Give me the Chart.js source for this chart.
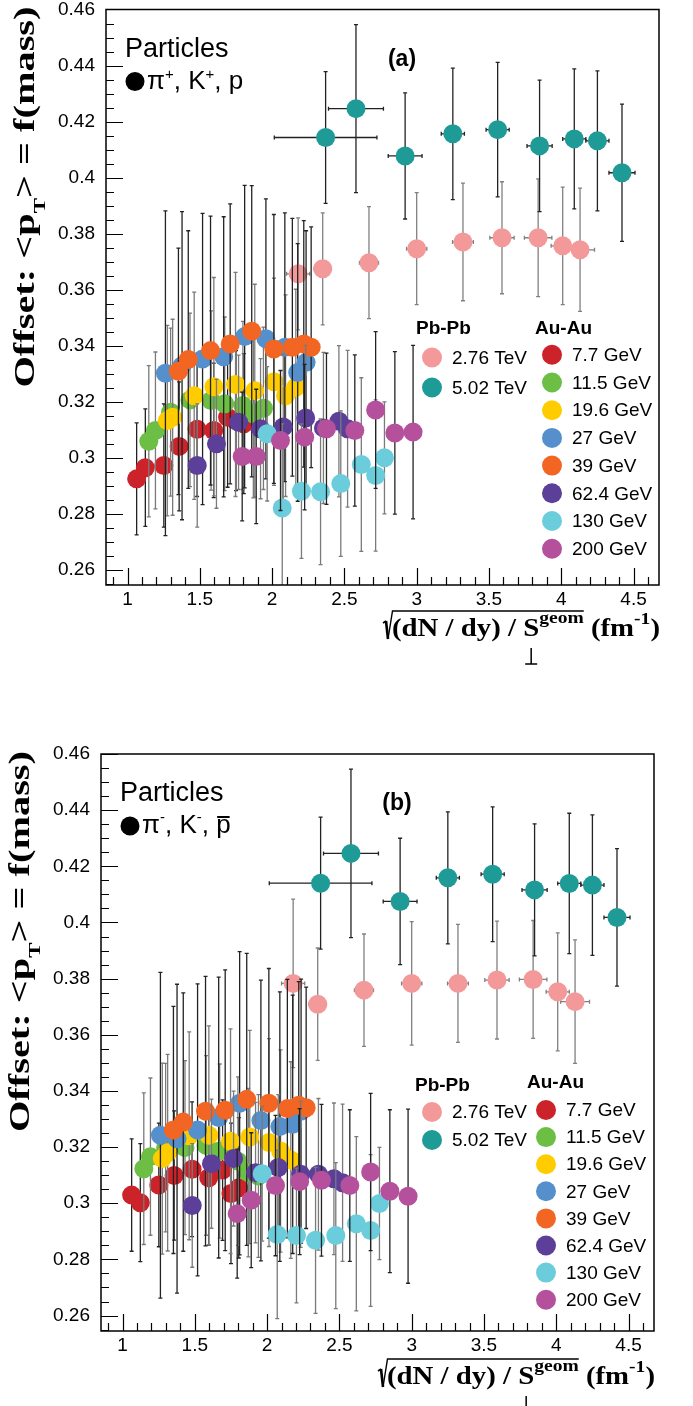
<!DOCTYPE html>
<html>
<head>
<meta charset="utf-8">
<script src="https://cdn.jsdelivr.net/npm/chart.js@4.4.0/dist/chart.umd.min.js"></script>
<style>
  html, body { margin: 0; padding: 0; background: #fff; }
  #wrap { position: relative; width: 693px; height: 1406px; }
  canvas { position: absolute; left: 0; }
</style>
</head>
<body>
<div id="wrap">
  <canvas id="chartA" width="693" height="703" style="top:0px"></canvas>
  <canvas id="chartB" width="693" height="703" style="top:703px"></canvas>
</div>
<script>
// Series names (Pb-Pb first, then Au-Au energies)
const energyLabels = ['2.76 TeV', '5.02 TeV', '7.7 GeV', '11.5 GeV', '19.6 GeV', '27 GeV', '39 GeV', '62.4 GeV', '130 GeV', '200 GeV'];
const energyColors = ['#f4999a', '#1f9b97', '#cc2229', '#6cbe45', '#ffcc00', '#5590cc', '#f26522', '#5c3f99', '#6bcddb', '#b5519c'];
const barColors = ['#808080', '#222222', '#222222', '#7a7a7a', '#7a7a7a', '#222222', '#222222', '#7a7a7a', '#7a7a7a', '#222222'];

// x : sqrt((dN/dy)/S) (same centralities in both panels)
const x276 = [2.18, 2.35, 2.67, 3.00, 3.32, 3.59, 3.84, 4.01, 4.13];
const x502 = [2.37, 2.58, 2.92, 3.25, 3.56, 3.85, 4.09, 4.25, 4.42];
const x7   = [1.063, 1.123, 1.251, 1.357, 1.481, 1.596, 1.692, 1.75, 1.804];
const x11  = [1.147, 1.193, 1.298, 1.432, 1.578, 1.672, 1.798, 1.87, 1.94];
const x19  = [1.275, 1.312, 1.461, 1.597, 1.747, 1.88, 2.013, 2.093, 2.164];
const x27  = [1.262, 1.377, 1.519, 1.665, 1.81, 1.957, 2.088, 2.177, 2.235];
const x39  = [1.352, 1.42, 1.574, 1.71, 1.859, 2.012, 2.14, 2.219, 2.27];
const x62  = [1.482, 1.615, 1.768, 1.92, 2.077, 2.232, 2.355, 2.462, 2.522];
const x130 = [1.966, 2.07, 2.203, 2.335, 2.475, 2.617, 2.716, 2.777];
const x200 = [1.793, 1.89, 2.058, 2.225, 2.376, 2.572, 2.716, 2.849, 2.975];

// panel (a): pi+, K+, p
const yA276 = [0.3656, 0.3674, 0.3696, 0.3746, 0.3770, 0.3785, 0.3785, 0.3756, 0.3742];
const yA502 = [0.4143, 0.4246, 0.4077, 0.4156, 0.4171, 0.4113, 0.4138, 0.4131, 0.4017];
const yA7   = [0.2924, 0.2964, 0.2972, 0.3040, 0.3101, 0.3097, 0.3144, 0.3132, 0.3121];
const yA11  = [0.3058, 0.3097, 0.3162, 0.3206, 0.3204, 0.3192, 0.3186, 0.3156, 0.3176];
const yA19  = [0.3132, 0.3144, 0.3221, 0.3253, 0.3261, 0.3239, 0.3271, 0.3221, 0.3251];
const yA27  = [0.3301, 0.3328, 0.3352, 0.3360, 0.3432, 0.3424, 0.3394, 0.3304, 0.3340];
const yA39  = [0.3308, 0.3350, 0.3382, 0.3406, 0.3451, 0.3388, 0.3394, 0.3406, 0.3394];
const yA62  = [0.2972, 0.3049, 0.3126, 0.3103, 0.3109, 0.3141, 0.3106, 0.3130, 0.3103];
const yA130 = [0.3085, 0.2820, 0.2880, 0.2878, 0.2907, 0.2975, 0.2936, 0.2999];
const yA200 = [0.3004, 0.3004, 0.3061, 0.3073, 0.3103, 0.3097, 0.3170, 0.3088, 0.3091];

// panel (b): pi-, K-, pbar
const yB276 = [0.3783, 0.3709, 0.3759, 0.3783, 0.3783, 0.3795, 0.3797, 0.3753, 0.3718];
const yB502 = [0.4140, 0.4246, 0.4075, 0.4159, 0.4172, 0.4116, 0.4139, 0.4133, 0.4018];
const yB7   = [0.3029, 0.3002, 0.3065, 0.3099, 0.3121, 0.3091, 0.3118, 0.3035, 0.3055];
const yB11  = [0.3123, 0.3166, 0.3198, 0.3198, 0.3206, 0.3186, 0.3150, 0.3109, 0.3097];
const yB19  = [0.3159, 0.3180, 0.3240, 0.3242, 0.3221, 0.3236, 0.3216, 0.3186, 0.3154];
const yB27  = [0.3242, 0.3230, 0.3261, 0.3305, 0.3356, 0.3295, 0.3273, 0.3281, 0.3328];
const yB39  = [0.3261, 0.3289, 0.3328, 0.3331, 0.3370, 0.3356, 0.3337, 0.3349, 0.3340];
const yB62  = [0.2992, 0.3141, 0.3159, 0.3109, 0.3127, 0.3103, 0.3103, 0.3087, 0.3073];
const yB130 = [0.3105, 0.2889, 0.2885, 0.2868, 0.2885, 0.2927, 0.2903, 0.2999];
const yB200 = [0.2963, 0.3011, 0.3063, 0.3077, 0.3082, 0.3063, 0.3111, 0.3043, 0.3025];

// error bars (half widths)
const eyA276 = [0.020, 0.020, 0.020, 0.020, 0.021, 0.020, 0.021, 0.021, 0.022];
const eyB276 = [0.030, 0.020, 0.020, 0.022, 0.021, 0.021, 0.021, 0.021, 0.022];
const ey502  = [0.0235, 0.030, 0.0225, 0.0235, 0.024, 0.0235, 0.025, 0.025, 0.0245];
const ex276  = [0.08, 0.06, 0.066, 0.07, 0.072, 0.084, 0.095, 0.08, 0.10];
const ex502  = [0.355, 0.19, 0.117, 0.08, 0.08, 0.087, 0.08, 0.08, 0.09];
const ey7    = [0.020, 0.021, 0.022, 0.023, 0.024, 0.024, 0.025, 0.025, 0.025];
const ey11   = [0.027, 0.028, 0.030, 0.031, 0.032, 0.031, 0.030, 0.030, 0.029];
const ey19   = [0.034, 0.035, 0.037, 0.039, 0.040, 0.038, 0.037, 0.036, 0.035];
const ey27   = [0.058, 0.055, 0.052, 0.050, 0.054, 0.050, 0.048, 0.046, 0.047];
const ey39   = [0.044, 0.046, 0.048, 0.050, 0.052, 0.048, 0.046, 0.044, 0.043];
const ey62   = [0.022, 0.023, 0.024, 0.025, 0.026, 0.026, 0.027, 0.027, 0.028];
const ey130  = [0.024, 0.030, 0.024, 0.026, 0.026, 0.031, 0.027, 0.020];
const ey200  = [0.023, 0.024, 0.025, 0.026, 0.027, 0.027, 0.028, 0.029, 0.031];

Chart.defaults.font.family = '"Liberation Sans", Arial, Helvetica, sans-serif';
Chart.defaults.color = '#000';

const SERIF = '"Liberation Serif", "Times New Roman", serif';

function buildDatasets(ySets, ey276) {
  const xs = [x276, x502, x7, x11, x19, x27, x39, x62, x130, x200];
  const eys = [ey276, ey502, ey7, ey11, ey19, ey27, ey39, ey62, ey130, ey200];
  const exs = [ex276, ex502];
  return xs.map((xv, i) => ({
    label: energyLabels[i],
    data: xv.map((x, j) => ({ x: x, y: ySets[i][j] })),
    errY: eys[i],
    errX: exs[i] || null,
    barColor: barColors[i],
    backgroundColor: energyColors[i],
    borderColor: energyColors[i],
    borderWidth: 0,
    pointRadius: 9.5,
    pointHoverRadius: 9.5,
    order: 20 - i
  }));
}

// error bars under each dataset's own markers
const errorBars = {
  id: 'errorBars',
  beforeDatasetDraw(chart, args) {
    const ds = chart.data.datasets[args.index];
    const xs = chart.scales.x, ys = chart.scales.y;
    const ctx = chart.ctx, a = chart.chartArea;
    ctx.save();
    ctx.beginPath();
    ctx.rect(a.left, a.top, a.right - a.left, a.bottom - a.top);
    ctx.clip();
    ctx.strokeStyle = ds.barColor;
    ctx.lineWidth = 1.3;
    ds.data.forEach((p, i) => {
      const px = xs.getPixelForValue(p.x), py = ys.getPixelForValue(p.y);
      const t = ys.getPixelForValue(p.y + ds.errY[i]);
      const b = ys.getPixelForValue(p.y - ds.errY[i]);
      ctx.beginPath();
      ctx.moveTo(px, t); ctx.lineTo(px, b);
      ctx.moveTo(px - 2, t); ctx.lineTo(px + 2, t);
      ctx.moveTo(px - 2, b); ctx.lineTo(px + 2, b);
      if (ds.errX) {
        const l = xs.getPixelForValue(p.x - ds.errX[i]);
        const r = xs.getPixelForValue(p.x + ds.errX[i]);
        ctx.moveTo(l, py); ctx.lineTo(r, py);
        ctx.moveTo(l, py - 2); ctx.lineTo(l, py + 2);
        ctx.moveTo(r, py - 2); ctx.lineTo(r, py + 2);
      }
      ctx.stroke();
    });
    ctx.restore();
  }
};

// frame + inner ticks (ROOT style)
const frameTicks = {
  id: 'frameTicks',
  afterDatasetsDraw(chart) {
    const ctx = chart.ctx, a = chart.chartArea;
    const xs = chart.scales.x, ys = chart.scales.y;
    ctx.save();
    ctx.strokeStyle = '#000';
    ctx.lineWidth = 1.2;
    ctx.beginPath();
    for (let v = 0.255; v <= 0.4601; v += 0.005) {
      const y = Math.round(ys.getPixelForValue(v)) + 0.5;
      const major = Math.abs((v - 0.26) / 0.02 - Math.round((v - 0.26) / 0.02)) < 0.01;
      ctx.moveTo(a.left, y); ctx.lineTo(a.left + (major ? 17 : 8), y);
    }
    for (let v = 0.9; v <= 4.6501; v += 0.1) {
      const x = Math.round(xs.getPixelForValue(v)) + 0.5;
      const major = Math.abs(v * 2 - Math.round(v * 2)) < 0.01;
      ctx.moveTo(x, a.bottom); ctx.lineTo(x, a.bottom - (major ? 17 : 8));
    }
    ctx.stroke();
    ctx.lineWidth = 1.5;
    ctx.strokeRect(a.left, a.top, a.right - a.left, a.bottom - a.top);
    ctx.restore();
  }
};

function drawParts(ctx, parts, x, y) {
  let cx = x;
  parts.forEach(p => {
    ctx.font = p.font;
    ctx.fillText(p.t, cx, y + (p.dy || 0));
    const w = ctx.measureText(p.t).width;
    if (p.bar) {
      ctx.fillRect(cx + 1, y - 17, w - 2, 2);
    }
    cx += w;
  });
  return cx;
}

function drawYTitle(ctx, baseX, yLow, yHigh) {
  const f = 'bold 30px ' + SERIF, fs = 'bold 17px ' + SERIF;
  ctx.save();
  ctx.font = f;
  const w1 = ctx.measureText('Offset: <p').width;
  const w3 = ctx.measureText('> = f(mass)').width;
  ctx.font = fs;
  const w2 = ctx.measureText('T').width;
  const sx = (yLow - yHigh) / (w1 + w2 + w3);
  ctx.translate(baseX, yLow);
  ctx.rotate(-Math.PI / 2);
  ctx.scale(sx, 1);
  ctx.fillStyle = '#000';
  ctx.textAlign = 'left';
  ctx.textBaseline = 'alphabetic';
  ctx.font = f; ctx.fillText('Offset: <p', 0, 0);
  ctx.font = fs; ctx.fillText('T', w1, 11);
  ctx.font = f; ctx.fillText('> = f(mass)', w1 + w2, 0);
  ctx.restore();
}

function drawXTitle(ctx, x0, x1, base) {
  const big = 'bold 25px ' + SERIF, small = 'bold 17px ' + SERIF;
  const parts = [
    { t: '(dN / dy) / S', font: big, dy: 0 },
    { t: 'geom', font: small, dy: -13 },
    { t: ' (fm', font: big, dy: 0 },
    { t: '-1', font: small, dy: -12 },
    { t: ')', font: big, dy: 0 }
  ];
  ctx.save();
  let total = 0;
  parts.forEach(p => { ctx.font = p.font; p.w = ctx.measureText(p.t).width; total += p.w; });
  ctx.font = big;
  const wPre = ctx.measureText('(dN / dy) / ').width;
  const wS = ctx.measureText('S').width;
  const sx = (x1 - x0) / total;
  ctx.fillStyle = '#000';
  ctx.textAlign = 'left';
  ctx.textBaseline = 'alphabetic';
  ctx.save();
  ctx.translate(x0, base);
  ctx.scale(sx, 1);
  let cx = 0;
  parts.forEach(p => { ctx.font = p.font; ctx.fillText(p.t, cx, p.dy); cx += p.w; });
  ctx.restore();
  // radical sign and over-bar up to the end of "geom"
  const barEnd = x0 + (parts[0].w + parts[1].w) * sx;
  ctx.strokeStyle = '#000';
  ctx.lineWidth = 1.6;
  ctx.beginPath();
  ctx.moveTo(x0 - 9, base - 13);
  ctx.lineTo(x0 - 6, base - 15);
  ctx.stroke();
  ctx.lineWidth = 2.6;
  ctx.beginPath();
  ctx.moveTo(x0 - 6, base - 15);
  ctx.lineTo(x0 - 4, base + 3);
  ctx.stroke();
  ctx.lineWidth = 1.4;
  ctx.beginPath();
  ctx.moveTo(x0 - 4, base + 3);
  ctx.lineTo(x0 + 0.5, base - 25);
  ctx.lineTo(barEnd, base - 25);
  ctx.stroke();
  // perpendicular sign under S
  const sc = x0 + (wPre + wS / 2) * sx;
  ctx.lineWidth = 1.5;
  ctx.beginPath();
  ctx.moveTo(sc, base + 12); ctx.lineTo(sc, base + 28);
  ctx.moveTo(sc - 6, base + 28); ctx.lineTo(sc + 6, base + 28);
  ctx.stroke();
  ctx.restore();
}

// texts, titles and the two-column legend
const decor = {
  id: 'decor',
  afterDraw(chart, args, o) {
    const ctx = chart.ctx, a = chart.chartArea;
    const L = a.left, T = a.top;
    ctx.save();
    ctx.fillStyle = '#000';
    ctx.textAlign = 'left';
    ctx.textBaseline = 'alphabetic';
    drawYTitle(ctx, L - 72, T + 378, T - 3);
    drawXTitle(ctx, a.right - 267, a.right + 1, a.bottom + o.xTitleDy);

    // Particles box
    ctx.font = '27px "Liberation Sans", Arial, sans-serif';
    ctx.fillText('Particles', L + 19, T + 47);
    ctx.beginPath();
    ctx.arc(L + 29, T + 72, 9.5, 0, Math.PI * 2);
    ctx.fill();
    drawParts(ctx, o.particles, L + 41, T + 79);

    // panel label
    ctx.font = 'bold 23px "Liberation Sans", Arial, sans-serif';
    ctx.textAlign = 'center';
    ctx.textBaseline = 'middle';
    ctx.fillText(o.tag, L + 296, T + 50);

    // legend
    const lg = o.legend;
    const ds = chart.data.datasets;
    ctx.textAlign = 'left';
    ctx.textBaseline = 'alphabetic';
    ctx.font = 'bold 19px "Liberation Sans", Arial, sans-serif';
    ctx.fillText('Pb-Pb', L + lg.pbX, T + lg.pbHead);
    ctx.fillText('Au-Au', L + lg.auX, T + lg.auHead);
    ctx.font = '19px "Liberation Sans", Arial, sans-serif';
    ctx.textBaseline = 'middle';
    ds.forEach((d, i) => {
      let cxp, cy, tx;
      if (i < 2) { cxp = L + lg.pbCircle; tx = L + lg.pbText; cy = T + lg.pbRow0 + i * lg.pbStep; }
      else { cxp = L + lg.auCircle; tx = L + lg.auText; cy = T + lg.auRow0 + (i - 2) * lg.auStep; }
      ctx.fillStyle = d.backgroundColor;
      ctx.beginPath(); ctx.arc(cxp, cy, 10, 0, Math.PI * 2); ctx.fill();
      ctx.fillStyle = '#000';
      ctx.fillText(d.label, tx, cy + 1);
    });
    ctx.restore();
  }
};

function makePanel(id, ySets, ey276, pad, xHeight, yWidth, decorOpts) {
  return new Chart(document.getElementById(id), {
    type: 'scatter',
    data: { datasets: buildDatasets(ySets, ey276) },
    options: {
      responsive: false,
      animation: false,
      devicePixelRatio: 1,
      layout: { padding: pad },
      plugins: {
        legend: { display: false },
        tooltip: { enabled: false },
        decor: decorOpts
      },
      scales: {
        x: {
          type: 'linear',
          min: 0.851,
          max: 4.676,
          grid: { display: false, drawTicks: false },
          border: { display: false },
          ticks: {
            stepSize: 0.5,
            includeBounds: false,
            padding: 3,
            font: { size: 19 },
            maxRotation: 0,
            callback: v => String(+v.toFixed(2))
          },
          afterFit: s => { s.height = xHeight; s.paddingLeft = 0; s.paddingRight = 0; }
        },
        y: {
          type: 'linear',
          min: 0.2545,
          max: 0.46,
          grid: { display: false, drawTicks: false },
          border: { display: false },
          ticks: {
            stepSize: 0.02,
            includeBounds: false,
            padding: 11,
            font: { size: 19 },
            callback: v => String(+v.toFixed(2))
          },
          afterFit: s => { s.width = yWidth; s.paddingTop = 0; s.paddingBottom = 0; }
        }
      }
    },
    plugins: [errorBars, frameTicks, decor]
  });
}

makePanel('chartA',
  [yA276, yA502, yA7, yA11, yA19, yA27, yA39, yA62, yA130, yA200], eyA276,
  { top: 8, right: 34, bottom: 0, left: 0 }, 118, 106,
  {
    tag: '(a)',
    xTitleDy: 51,
    particles: [
      { t: '\u03c0', font: '26px "Liberation Sans", Arial, sans-serif' },
      { t: '+', font: '15px "Liberation Sans", Arial, sans-serif', dy: -10 },
      { t: ', K', font: '26px "Liberation Sans", Arial, sans-serif' },
      { t: '+', font: '15px "Liberation Sans", Arial, sans-serif', dy: -10 },
      { t: ', p', font: '26px "Liberation Sans", Arial, sans-serif' }
    ],
    legend: { pbX: 310, pbHead: 324, auX: 429, auHead: 324, pbCircle: 326, pbText: 346, pbRow0: 348, pbStep: 30,
              auCircle: 446, auText: 466, auRow0: 345.3, auStep: 27.7 }
  });

makePanel('chartB',
  [yB276, yB502, yB7, yB11, yB19, yB27, yB39, yB62, yB130, yB200], eyB276,
  { top: 51, right: 39, bottom: 0, left: 0 }, 75, 101,
  {
    tag: '(b)',
    xTitleDy: 53,
    particles: [
      { t: '\u03c0', font: '26px "Liberation Sans", Arial, sans-serif' },
      { t: '-', font: '15px "Liberation Sans", Arial, sans-serif', dy: -11 },
      { t: ', K', font: '26px "Liberation Sans", Arial, sans-serif' },
      { t: '-', font: '15px "Liberation Sans", Arial, sans-serif', dy: -11 },
      { t: ', ', font: '26px "Liberation Sans", Arial, sans-serif' },
      { t: 'p', font: '26px "Liberation Sans", Arial, sans-serif', bar: true }
    ],
    legend: { pbX: 314, pbHead: 337, auX: 426, auHead: 334, pbCircle: 331, pbText: 351, pbRow0: 358, pbStep: 28,
              auCircle: 445, auText: 465, auRow0: 356, auStep: 27.1 }
  });
</script>
</body>
</html>
